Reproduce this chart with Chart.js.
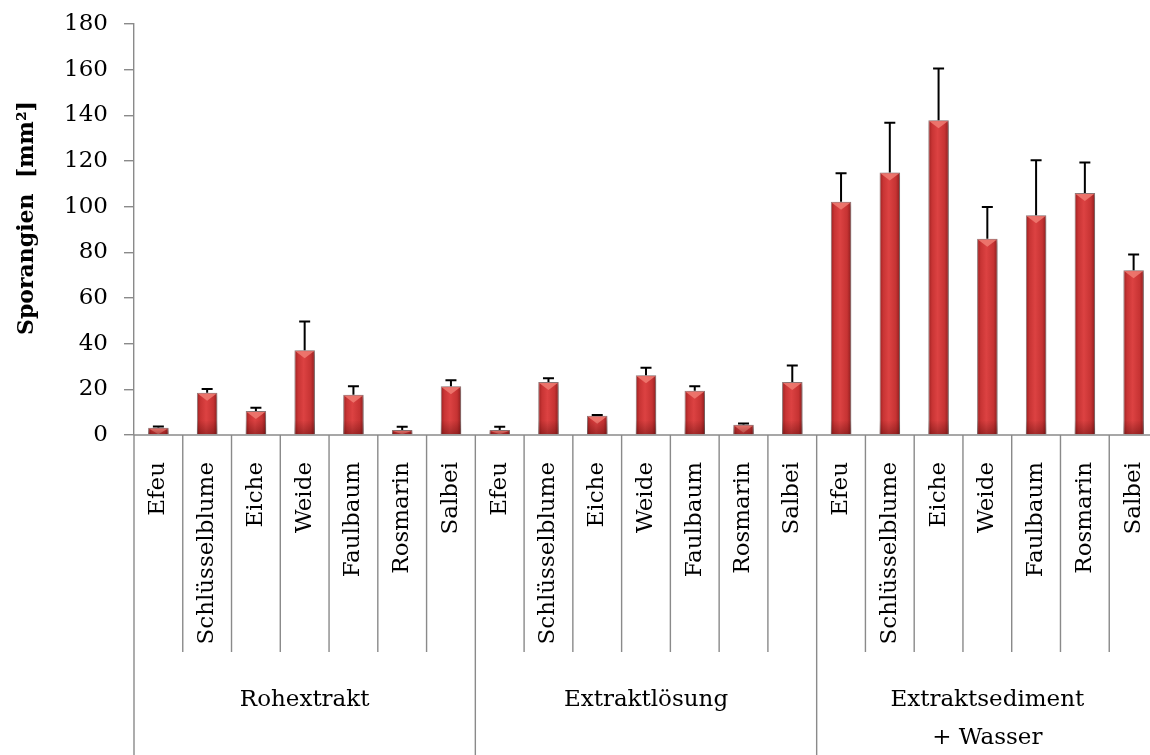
<!DOCTYPE html>
<html>
<head>
<meta charset="utf-8">
<script src="https://cdn.jsdelivr.net/npm/chart.js@4"></script>
<style>
  html, body { margin: 0; padding: 0; background: #fff; overflow: hidden; }
</style>
</head>
<body>
<canvas id="sporChart" width="1160" height="755"></canvas>
<script>
// Pflanzen je Extraktart, Werte in mm² (Mittelwert und Standardabweichung)
const plants = ['Efeu', 'Schlüsselblume', 'Eiche', 'Weide', 'Faulbaum', 'Rosmarin', 'Salbei'];
const groups = [['Rohextrakt'], ['Extraktlösung'], ['Extraktsediment', '+ Wasser']];

const rohextrakt      = [3.2, 18.5, 10.5, 37.1, 17.6, 2.2, 21.4];
const rohextraktSd    = [0.5, 1.6, 1.4, 12.6, 3.8, 1.4, 2.6];
const extraktloesung  = [2.2, 23.2, 8.4, 26.2, 19.4, 4.5, 23.2];
const extraktloesungSd = [1.4, 1.7, 0.4, 3.2, 2.0, 0.5, 7.2];
const sediment        = [102.2, 115.0, 137.9, 85.9, 96.2, 106.0, 72.1];
const sedimentSd      = [12.4, 21.7, 22.6, 14.0, 24.1, 13.3, 7.0];

const yMin = 0, yMax = 180, yStep = 20;
const yTitle = 'Sporangien  [mm²]';

const labels = groups.flatMap(() => plants);
const values = rohextrakt.concat(extraktloesung, sediment);
const errors = rohextraktSd.concat(extraktloesungSd, sedimentSd);

const axisGrey = '#8a8a8a';
const serif = '"DejaVu Serif", "Liberation Serif", serif';

// horizontal shading so the bars look like rounded columns
function barFill(context) {
  const chart = context.chart;
  const x = chart.scales.x;
  if (!x || context.dataIndex === undefined) return '#d23a3a';
  const cx = x.getPixelForValue(context.dataIndex);
  const half = (x.getPixelForValue(1) - x.getPixelForValue(0)) * 0.42 / 2;
  if (!Number.isFinite(cx) || !Number.isFinite(half) || half <= 0) return '#d23a3a';
  const g = chart.ctx.createLinearGradient(cx - half, 0, cx + half, 0);
  g.addColorStop(0, '#9a2020');
  g.addColorStop(0.18, '#c83434');
  g.addColorStop(0.45, '#dc4242');
  g.addColorStop(0.8, '#c63333');
  g.addColorStop(1, '#8c1d1d');
  return g;
}

const barShadow = {
  id: 'barShadow',
  beforeDatasetsDraw(chart) {
    const ctx = chart.ctx;
    ctx.save();
    ctx.shadowColor = 'rgba(0,0,0,0.35)';
    ctx.shadowBlur = 5;
    ctx.shadowOffsetX = 2;
    ctx.shadowOffsetY = 1;
  },
  afterDatasetsDraw(chart) {
    chart.ctx.restore();
  }
};

// light cap on each bar plus the upper error whisker
const barDetails = {
  id: 'barDetails',
  afterDatasetsDraw(chart) {
    const { ctx, scales: { y } } = chart;
    const meta = chart.getDatasetMeta(0);
    ctx.save();
    meta.data.forEach((bar, i) => {
      const w = bar.width;
      const h = bar.base - bar.y;
      const tip = Math.min(7, h - 1);
      ctx.fillStyle = 'rgba(240,125,115,0.85)';
      ctx.beginPath();
      ctx.moveTo(bar.x - w / 2 + 1, bar.y + 1);
      ctx.lineTo(bar.x + w / 2 - 1, bar.y + 1);
      ctx.lineTo(bar.x, bar.y + 1 + tip);
      ctx.closePath();
      ctx.fill();

      // darker foot of the column
      const foot = ctx.createLinearGradient(0, bar.base - Math.min(14, h), 0, bar.base);
      foot.addColorStop(0, 'rgba(60,0,0,0)');
      foot.addColorStop(1, 'rgba(60,0,0,0.35)');
      ctx.fillStyle = foot;
      ctx.fillRect(bar.x - w / 2, bar.base - Math.min(14, h), w, Math.min(14, h));

      const top = y.getPixelForValue(values[i] + errors[i]);
      const start = y.getPixelForValue(values[i]);
      ctx.strokeStyle = '#000';
      ctx.lineWidth = 2;
      ctx.beginPath();
      ctx.moveTo(bar.x, start);
      ctx.lineTo(bar.x, top);
      ctx.moveTo(bar.x - 5.5, top);
      ctx.lineTo(bar.x + 5.5, top);
      ctx.stroke();
    });
    ctx.restore();
  }
};

// two-level category axis: plant names rotated, extract type below; y title
const categoryAxis = {
  id: 'categoryAxis',
  afterDraw(chart) {
    const { ctx, chartArea: area, scales: { x } } = chart;
    const slot = x.getPixelForValue(1) - x.getPixelForValue(0);
    const edge = i => x.getPixelForValue(i) - slot / 2;
    ctx.save();
    ctx.strokeStyle = axisGrey;
    ctx.lineWidth = 1.4;
    ctx.beginPath();
    ctx.moveTo(area.left, area.bottom);
    ctx.lineTo(area.right, area.bottom);
    for (let i = 0; i <= labels.length; i++) {
      const px = edge(i);
      const groupEdge = i % plants.length === 0;
      ctx.moveTo(px, area.bottom);
      ctx.lineTo(px, groupEdge ? chart.height : area.bottom + 217);
    }
    ctx.stroke();

    ctx.fillStyle = '#000';
    ctx.font = '23px ' + serif;
    labels.forEach((lab, i) => {
      ctx.save();
      ctx.translate(x.getPixelForValue(i), area.bottom + 27);
      ctx.rotate(-Math.PI / 2);
      ctx.textAlign = 'right';
      ctx.textBaseline = 'middle';
      ctx.fillText(lab, 0, 0);
      ctx.restore();
    });

    ctx.textAlign = 'center';
    ctx.textBaseline = 'middle';
    groups.forEach((lines, gi) => {
      const cx = (edge(gi * plants.length) + edge((gi + 1) * plants.length)) / 2;
      lines.forEach((line, li) => ctx.fillText(line, cx, area.bottom + 265 + li * 38));
    });

    ctx.font = 'bold 22px ' + serif;
    ctx.translate(27, 218);
    ctx.rotate(-Math.PI / 2);
    ctx.fillText(yTitle, 0, 0);
    ctx.restore();
  }
};

new Chart(document.getElementById('sporChart'), {
  type: 'bar',
  data: {
    labels: labels,
    datasets: [{
      data: values,
      backgroundColor: barFill,
      borderColor: 'rgba(110,70,70,0.7)',
      borderWidth: 1,
      categoryPercentage: 1,
      barPercentage: 0.42
    }]
  },
  options: {
    responsive: false,
    animation: false,
    layout: { padding: { top: 24, right: 2, bottom: 320, left: 0 } },
    plugins: { legend: { display: false }, tooltip: { enabled: false } },
    scales: {
      x: { display: false },
      y: {
        min: yMin,
        max: yMax,
        afterFit: s => { s.width = 134; s.paddingTop = 0; s.paddingBottom = 0; },
        ticks: { stepSize: yStep, color: '#000', padding: 16, font: { family: serif, size: 23 } },
        grid: { drawOnChartArea: false, tickLength: 10, color: axisGrey, lineWidth: 1.4 },
        border: { color: axisGrey, width: 1.4 }
      }
    }
  },
  plugins: [barShadow, barDetails, categoryAxis]
});
</script>
</body>
</html>
